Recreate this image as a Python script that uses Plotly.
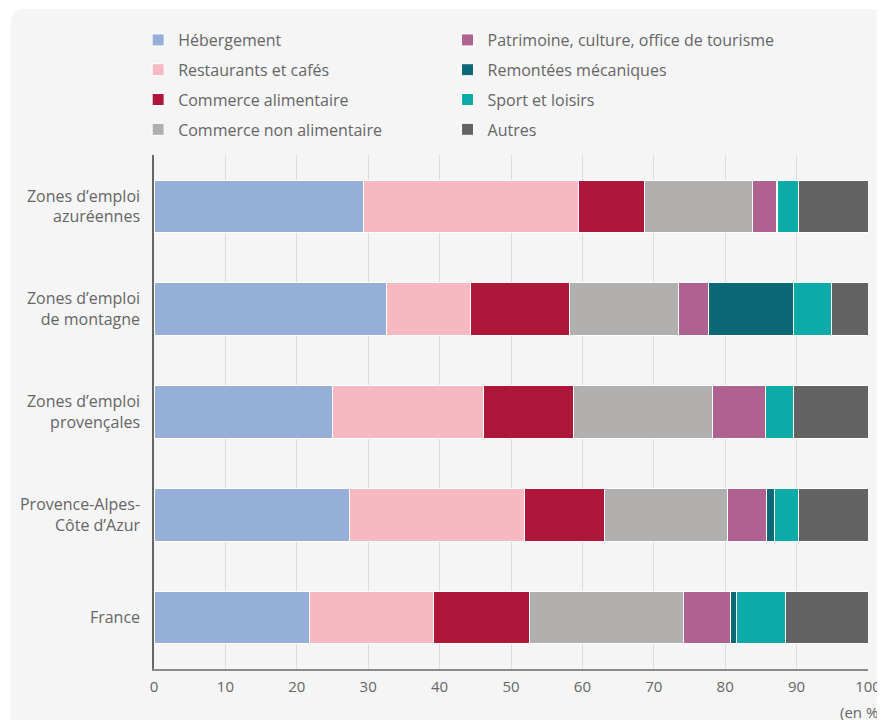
import plotly.graph_objects as go

categories = ["Zones d’emploi<br>azuréennes", "Zones d’emploi<br>de montagne",
              "Zones d’emploi<br>provençales", "Provence-Alpes-<br>Côte d’Azur", "France"]

series_names = ["Hébergement", "Restaurants et cafés", "Commerce alimentaire",
                "Commerce non alimentaire", "Patrimoine, culture, office de tourisme",
                "Remontées mécaniques", "Sport et loisirs", "Autres"]

hebergement = [29.35, 32.5, 24.95, 27.45, 21.8]
restaurants = [30.15, 11.85, 21.25, 24.5, 17.3]
commerce_alim = [9.2, 13.9, 12.6, 11.15, 13.55]
commerce_non_alim = [15.1, 15.25, 19.45, 17.25, 21.45]
patrimoine = [3.4, 4.2, 7.45, 5.45, 6.65]
remontees = [0.15, 11.8, 0.0, 1.1, 0.8]
sport = [2.85, 5.45, 3.8, 3.3, 6.85]
autres = [9.8, 5.05, 10.5, 9.8, 11.6]

x_ticks = [0, 10, 20, 30, 40, 50, 60, 70, 80, 90, 100]

series_values = [hebergement, restaurants, commerce_alim, commerce_non_alim,
                 patrimoine, remontees, sport, autres]
colors = ["#96afd9", "#f6b9c1", "#ae173a", "#b1b0ae",
          "#af6291", "#0c6876", "#0daaaa", "#636363"]

W, H = 885, 720
ML, MR, MT, MB = 144, 21, 147, 59
PW, PH = W - ML - MR, H - MT - MB

def px_x(p):
    return (p - ML) / PW

def px_y(p):
    return (H - MB - p) / PH

fig = go.Figure()
for i, (name, vals, col) in enumerate(zip(series_names, series_values, colors)):
    fig.add_trace(go.Bar(
        y=categories, x=vals, name=name, orientation="h",
        marker=dict(color=col, line=dict(color="white", width=1)),
        legend="legend" if i < 4 else "legend2",
        legendgroup=f"g{i}",
        hoverinfo="skip",
    ))

text_col = "#666666"
font_family = "Open Sans"

# background card with rounded top-left corner
x0, y0 = px_x(-1), px_y(1)
rx, ry = 16 / PW, 16 / PH
x1, y1 = px_x(900), px_y(740)
card_path = (f"M {x0},{y1} L {x0},{y0 - ry} Q {x0},{y0} {x0 + rx},{y0} "
             f"L {x1},{y0} L {x1},{y1} Z")

legend_common = dict(
    font=dict(family=font_family, size=16, color=text_col),
    bgcolor="rgba(0,0,0,0)", borderwidth=0,
    orientation="v", tracegroupgap=6,
    xanchor="left", yanchor="top",
)

fig.update_layout(
    width=W, height=H,
    margin=dict(l=ML, r=MR, t=MT, b=MB, pad=0),
    paper_bgcolor="white",
    plot_bgcolor="rgba(0,0,0,0)",
    barmode="stack",
    bargap=0.49,
    font=dict(family=font_family, size=16, color=text_col),
    showlegend=True,
    legend=dict(x=px_x(128), y=px_y(15), **legend_common),
    legend2=dict(x=px_x(440), y=px_y(15), **legend_common),
    xaxis=dict(
        range=[0, 100], tickvals=x_ticks, showgrid=True,
        gridcolor="#dcdcdc", gridwidth=1, zeroline=False,
        showline=True, linecolor="#8a8a8a", linewidth=1.5,
        ticks="", ticklabelstandoff=3,
        tickfont=dict(family=font_family, size=15, color=text_col),
        fixedrange=True,
    ),
    yaxis=dict(
        categoryorder="array", categoryarray=categories[::-1],
        showgrid=False, zeroline=False,
        showline=True, linecolor="#666666", linewidth=1.5,
        ticks="", ticklabelstandoff=9,
        tickfont=dict(family=font_family, size=16, color=text_col),
        fixedrange=True,
    ),
    shapes=[dict(type="path", path=card_path, xref="paper", yref="paper",
                 fillcolor="#f5f5f5", line=dict(width=0), layer="below")],
    annotations=[dict(text="(en %)", x=px_x(834), y=px_y(704), xref="paper", yref="paper",
                      xanchor="left", yanchor="middle", showarrow=False,
                      font=dict(family=font_family, size=15, color=text_col))],
)

fig.write_html("out.html")
